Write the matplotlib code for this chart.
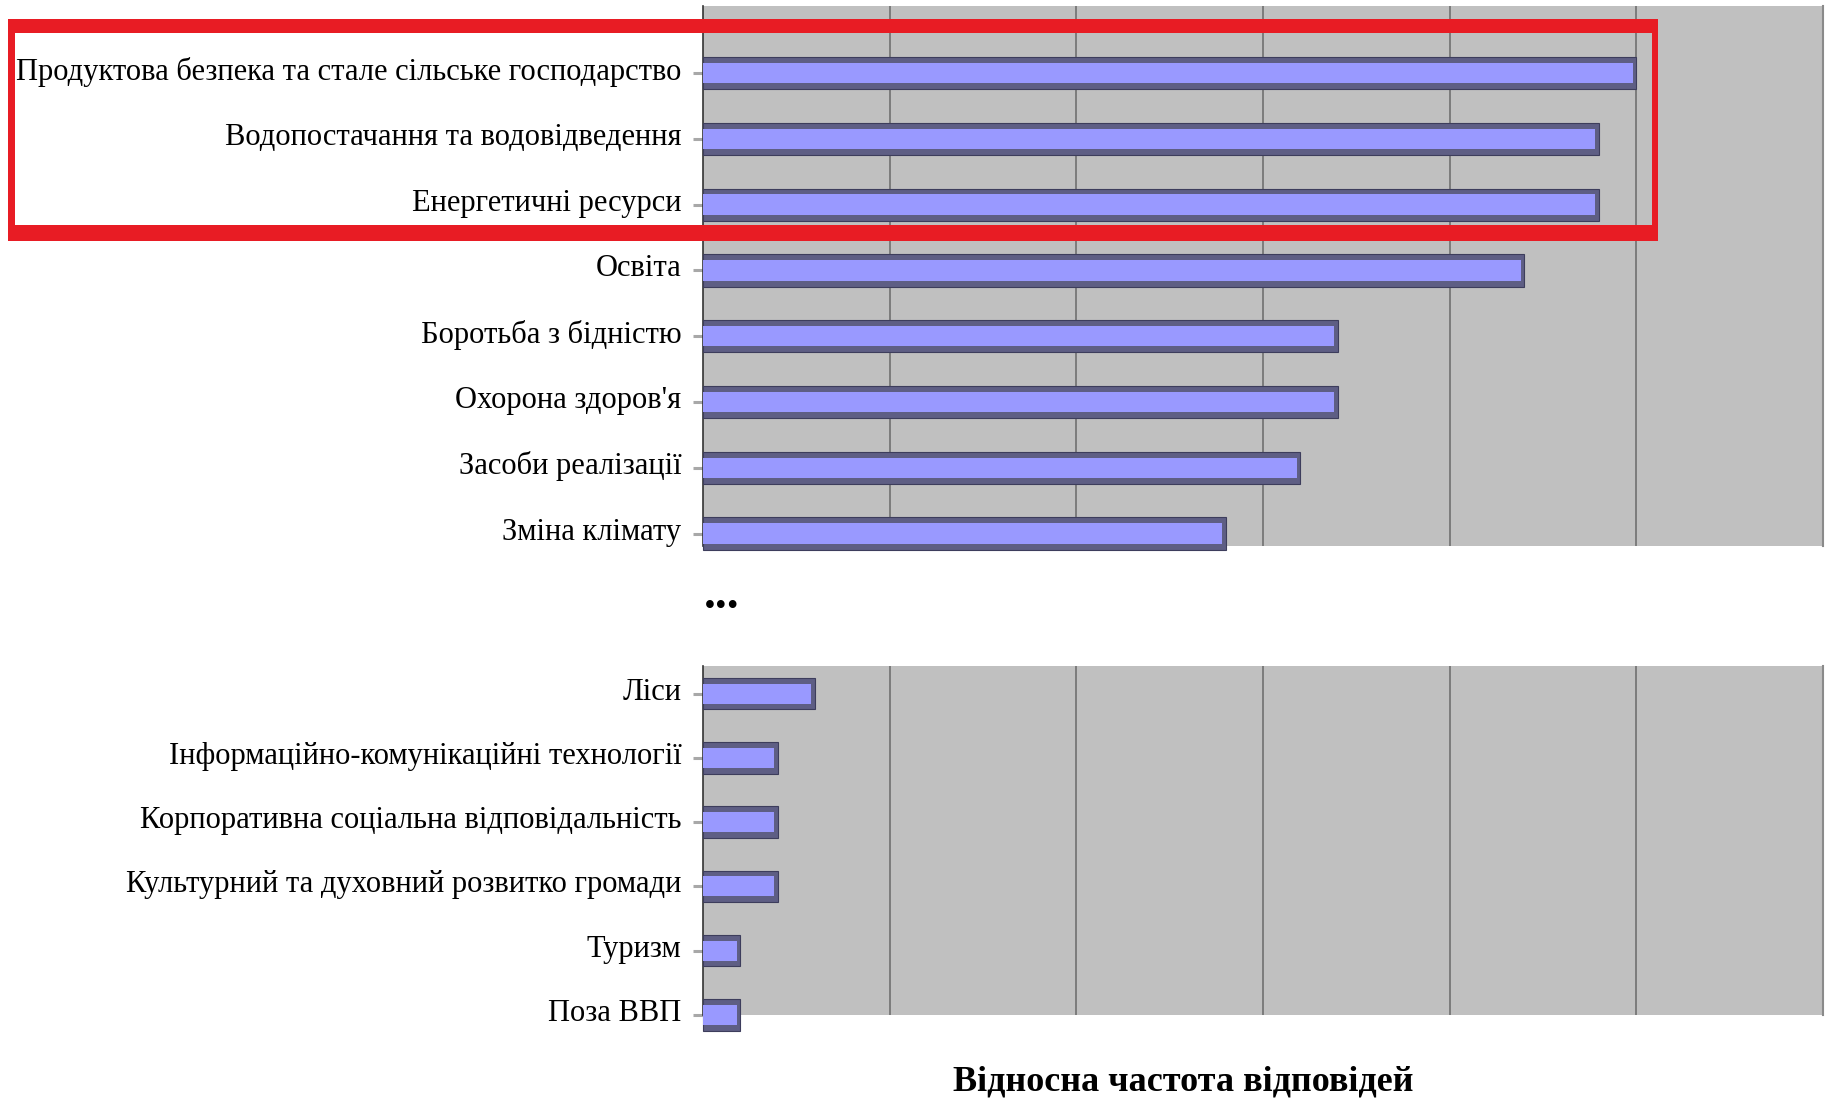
import matplotlib
matplotlib.use("Agg")
import matplotlib.pyplot as plt
import matplotlib.transforms as mtransforms
from matplotlib.patches import Rectangle

plt.rcParams['font.family'] = ['Liberation Serif', 'DejaVu Serif']

# top group (most frequent answers)
top_labels = ['Продуктова безпека та стале сільське господарство',
              'Водопостачання та водовідведення',
              'Енергетичні ресурси',
              'Освіта',
              'Боротьба з бідністю',
              "Охорона здоров'я",
              'Засоби реалізації',
              'Зміна клімату']
top_values = [25, 24, 24, 22, 17, 17, 16, 14]

# bottom group (least frequent answers)
bottom_labels = ['Ліси',
                 'Інформаційно-комунікаційні технології',
                 'Корпоративна соціальна відповідальність',
                 'Культурний та духовний розвитко громади',
                 'Туризм',
                 'Поза ВВП']
bottom_values = [3, 2, 2, 2, 1, 1]

x_max = 30
grid_step = 5
xlabel = 'Відносна частота відповідей'

W, H = 1825, 1111
fig = plt.figure(figsize=(W / 100, H / 100), dpi=100)


def px_axes(left, top, right, bottom):
    return fig.add_axes([left / W, 1 - bottom / H, (right - left) / W, (bottom - top) / H])


def draw_panel(ax, labels, values, ylim):
    pos = list(range(len(labels)))
    ax.set_facecolor('#c0c0c0')
    # dark body of the "cylinder" bar, then the light middle band
    ax.barh(pos, values, height=0.49, color='#5e5e84', edgecolor='#3d3d5c',
            linewidth=0.8, zorder=3, clip_on=False)
    ax.barh(pos, [v - 0.1 for v in values], height=0.31, color='#9999ff',
            linewidth=0, zorder=4, clip_on=False)
    ax.set_xlim(0, x_max)
    ax.set_ylim(ylim)
    ax.set_xticks(range(grid_step, x_max, grid_step))
    ax.xaxis.grid(True, color='#707070', linewidth=1.2)
    ax.set_axisbelow(True)
    ax.tick_params(axis='x', length=0, labelbottom=False)
    ax.set_yticks(pos)
    ax.set_yticklabels(labels, fontsize=22)
    ax.tick_params(axis='y', length=7, width=2.2, color='#a8a8a8', pad=8.5)
    # labels sit a little above the bar centres in the source
    shift = mtransforms.ScaledTranslation(0, 5 / 100, fig.dpi_scale_trans)
    for t in ax.get_yticklabels():
        t.set_transform(t.get_transform() + shift)
    for s in ['top', 'bottom']:
        ax.spines[s].set_visible(False)
    ax.spines['left'].set_color('#333333')
    ax.spines['left'].set_linewidth(1.2)
    ax.spines['right'].set_color('#8a8a8a')
    ax.spines['right'].set_linewidth(1.5)


ax1 = px_axes(703, 6, 1823, 546)
draw_panel(ax1, top_labels, top_values, (7.19, -1.02))

ax2 = px_axes(703, 666, 1823, 1015)
draw_panel(ax2, bottom_labels, bottom_values, (4.89, -0.43))

# gap marker between the two groups
fig.text(704 / W, 1 - 597 / H, '...', fontsize=34, fontweight='bold',
         ha='left', va='center')

fig.text(1183 / W, 1 - 1082 / H, xlabel, fontsize=26, fontweight='bold',
         ha='center', va='center')

# red highlight frame around the first three categories (uneven sides as in source)
red = '#e81c24'
for x0, y0, w, h in [(8, 19, 1650, 14), (8, 225, 1650, 16),
                     (8, 19, 7, 222), (1652, 19, 6, 222)]:
    fig.add_artist(Rectangle((x0 / W, 1 - (y0 + h) / H), w / W, h / H,
                             transform=fig.transFigure, color=red, lw=0, zorder=10))

fig.savefig('out.png', dpi=100)
